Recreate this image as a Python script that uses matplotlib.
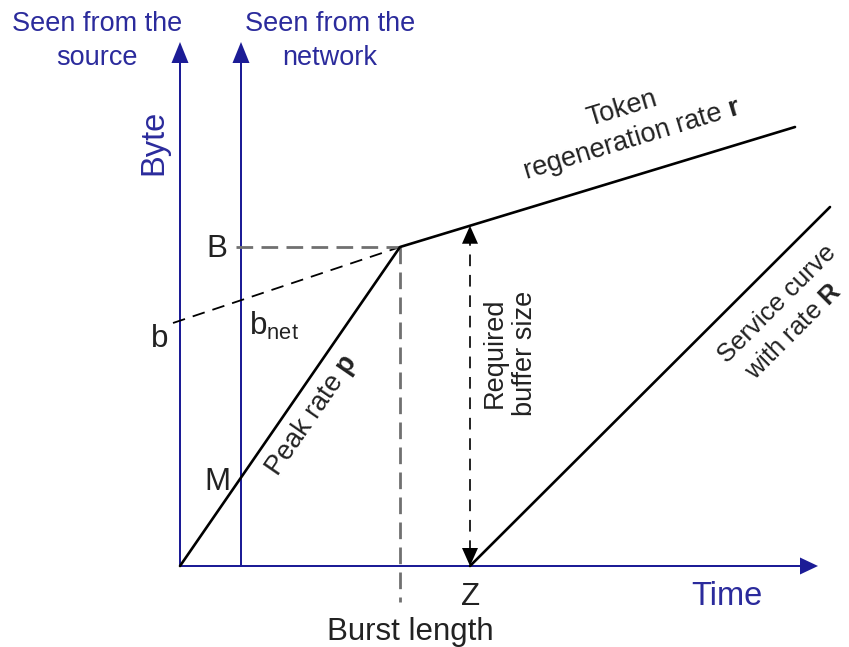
import matplotlib.pyplot as plt

plt.rcParams['font.family'] = ['Liberation Sans', 'DejaVu Sans']
plt.rcParams['mathtext.fontset'] = 'custom'
plt.rcParams['mathtext.rm'] = 'Liberation Sans'
plt.rcParams['mathtext.bf'] = 'Liberation Sans:bold'

# diagram geometry, units are "time" and "byte" measured from the origin
axis_top = 524
time_end = 638
net_axis_t = 61

burst_pt = (220, 319)         # end of the peak-rate phase (burst length, B)
token_end = (615, 439)        # end of the token regeneration line
b_start = (-7, 243)           # start of the dashed b extension
B_dash_start = 56
burst_dash_bottom = -36
Z = 290                       # service latency
service_end = (650, 359)

BLUE = '#1c1c96'
BLUE_TXT = '#2b2b9c'
GREY = '#707070'

fig = plt.figure(figsize=(8.49, 6.47), dpi=100)
ax = fig.add_axes([0, 0, 1, 1])
ax.set_xlim(-180, 669)
ax.set_ylim(-81, 566)
ax.axis('off')

# axes with arrow heads
ax.arrow(0, 0, 0, axis_top, width=2, head_width=17, head_length=21,
         length_includes_head=True, color=BLUE, lw=0)
ax.arrow(net_axis_t, 0, 0, axis_top, width=2, head_width=17, head_length=21,
         length_includes_head=True, color=BLUE, lw=0)
ax.arrow(0, 0, time_end, 0, width=2, head_width=17, head_length=18,
         length_includes_head=True, color=BLUE, lw=0)

# arrival curve
ax.plot([0, burst_pt[0], token_end[0]], [0, burst_pt[1], token_end[1]],
        color='black', lw=1.9, solid_capstyle='round', zorder=3)

# dashed helpers
ax.plot([b_start[0], burst_pt[0]], [b_start[1], burst_pt[1]],
        color='black', lw=1.3, dashes=(7, 4.5))
ax.plot([B_dash_start, burst_pt[0]], [burst_pt[1], burst_pt[1]],
        color=GREY, lw=2, dashes=(6, 3))
ax.plot([burst_pt[0], burst_pt[0]], [burst_pt[1], burst_dash_bottom],
        color=GREY, lw=2, dashes=(6, 3))

# required buffer size double arrow
slope_r = (token_end[1] - burst_pt[1]) / (token_end[0] - burst_pt[0])
buf_top = burst_pt[1] + slope_r * (Z - burst_pt[0])
ax.plot([Z, Z], [14, buf_top - 14], color='#222222', lw=1.4, dashes=(6, 4.5))
ax.arrow(Z, buf_top - 18, 0, 18, width=0, head_width=16, head_length=18,
         length_includes_head=True, color='black', lw=0, zorder=4)
ax.arrow(Z, 18, 0, -18, width=0, head_width=16, head_length=18,
         length_includes_head=True, color='black', lw=0, zorder=4)

# service curve
ax.plot([Z, service_end[0]], [0, service_end[1]], color='black', lw=1.9,
        solid_capstyle='round', zorder=3)

# blue labels
ax.text(-83, 525, 'Seen from the\nsource', color=BLUE_TXT, fontsize=19.5,
        ha='center', va='center', linespacing=1.4)
ax.text(150, 525, 'Seen from the\nnetwork', color=BLUE_TXT, fontsize=19.5,
        ha='center', va='center', linespacing=1.4)
ax.text(-26, 424, 'Byte', color=BLUE_TXT, fontsize=23.5, rotation=90,
        ha='center', va='center')
ax.text(547, -39, 'Time', color=BLUE_TXT, fontsize=23.5, ha='center',
        va='baseline')

# black labels
lbl = dict(color='#222222', fontsize=22.5)
ax.text(37, 309, 'B', ha='center', va='baseline', **lbl)
ax.text(-20, 219, 'b', ha='center', va='baseline', **lbl)
ax.text(69, 231, r'b$_{\mathrm{net}}$', ha='left', va='baseline', **lbl)
ax.text(37, 76, 'M', ha='center', va='baseline', **lbl)
ax.text(Z + 1, -39, 'Z', ha='center', va='baseline', **lbl)
ax.text(burst_pt[0] + 10, -74, 'Burst length', ha='center', va='baseline', **lbl)

rot = dict(ha='center', va='center', rotation_mode='anchor', color='#222222',
           fontsize=19.5, linespacing=1.2)
ax.text(132, 151, r'Peak rate $\mathbf{p}$', rotation=55.4, **rot)
ax.text(447, 441, 'Token\nregeneration rate $\\mathbf{r}$', rotation=16.9, **rot)
ax.text(330, 213, 'Required\nbuffer size', rotation=90, **rot)
# two single lines so the rotated boxes stay inside the figure
ax.text(597, 262, 'Service curve', rotation=45, **{**rot, 'fontsize': 18.5})
ax.text(614, 234, 'with rate $\\mathbf{R}$', rotation=45,
        **{**rot, 'fontsize': 18.5})

fig.savefig('out.png', dpi=100)
